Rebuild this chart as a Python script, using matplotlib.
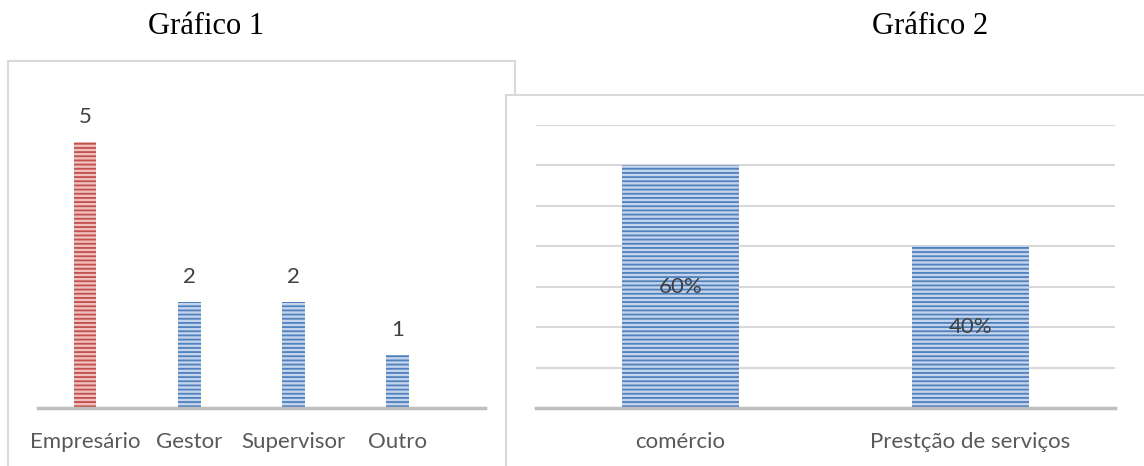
import matplotlib
matplotlib.use("Agg")
import matplotlib.pyplot as plt
from matplotlib.patches import Rectangle

# ---- data ----
cats1 = ["Empresário", "Gestor", "Supervisor", "Outro"]
vals1 = [5, 2, 2, 1]
cats2 = ["comércio", "Prestção de serviços"]
vals2 = [0.60, 0.40]
title1 = "Gráfico 1"
title2 = "Gráfico 2"

W, H = 1144, 466
plt.rcParams['hatch.linewidth'] = 1.3
fig = plt.figure(figsize=(W / 100, H / 100), dpi=100)
fig.patch.set_facecolor("white")

FONT = "Lato"
TXT = "#595959"
VAL = "#404040"
FRAME = "#d9d9d9"
FS = 16

def fx(px):
    return px / W

def fy(py):
    return 1 - py / H

# frames
fig.add_artist(Rectangle((fx(8), -0.02), fx(515 - 8), fy(61) + 0.02,
                         transform=fig.transFigure, facecolor="white",
                         edgecolor=FRAME, linewidth=1.5, zorder=-3))
fig.add_artist(Rectangle((fx(506), -0.02), fx(W - 506) + 0.05, fy(95) + 0.02,
                         transform=fig.transFigure, facecolor="white",
                         edgecolor=FRAME, linewidth=1.5, zorder=-2))

# titles
fig.text(fx(206), fy(26), title1, ha="center", va="center",
         family="Liberation Serif", fontsize=22, color="black")
fig.text(fx(930), fy(26), title2, ha="center", va="center",
         family="Liberation Serif", fontsize=22, color="black")

# ---- chart 1 ----
base = 408
ax1 = fig.add_axes([fx(38), fy(base), fx(485 - 38), (base - 88.8) / H], zorder=1)
ax1.set_facecolor("none")
colors1 = [("#f0bfbe", "#c0504d")] + [("#c4d4ec", "#4f81bd")] * 3
x1 = list(range(len(cats1)))
for xi, v, (fc, ec) in zip(x1, vals1, colors1):
    ax1.bar(xi, v, width=0.22, color=fc, edgecolor=ec, hatch="----", linewidth=0)
    ax1.text(xi, v + 0.28, str(v), ha="center", va="bottom", family=FONT,
             fontsize=FS, color=VAL)
ax1.set_xlim(-0.451, 3.839)
ax1.set_ylim(0, 6)
ax1.set_yticks([])
ax1.set_xticks(x1)
ax1.set_xticklabels(cats1, family=FONT, fontsize=FS, color=TXT)
ax1.tick_params(axis="x", length=0, pad=17)
for s in ["top", "right", "left"]:
    ax1.spines[s].set_visible(False)
ax1.spines["bottom"].set_color("#bfbfbf")
ax1.spines["bottom"].set_linewidth(2.5)

# ---- chart 2 ----
ax2 = fig.add_axes([fx(536), fy(base), fx(1115 - 536), (base - 125) / H], zorder=1)
ax2.set_facecolor("none")
x2 = list(range(len(cats2)))
ax2.bar(x2, vals2, width=0.403, color="#c4d4ec", edgecolor="#4f81bd",
        hatch="----", linewidth=0, zorder=2)
for xi, v in zip(x2, vals2):
    ax2.text(xi, v / 2, f"{int(round(v * 100))}%", ha="center", va="center",
             family=FONT, fontsize=FS, color=VAL, zorder=3)
ax2.set_xlim(-0.498, 1.498)
ax2.set_ylim(0, 0.7)
ax2.set_yticks([i / 10 for i in range(1, 8)])
ax2.yaxis.grid(True, color=FRAME, linewidth=1.5, zorder=0)
ax2.set_axisbelow(True)
ax2.tick_params(axis="y", length=0, labelleft=False)
ax2.set_xticks(x2)
ax2.set_xticklabels(cats2, family=FONT, fontsize=FS, color=TXT)
ax2.tick_params(axis="x", length=0, pad=17)
for s in ["top", "right", "left"]:
    ax2.spines[s].set_visible(False)
ax2.spines["bottom"].set_color("#bfbfbf")
ax2.spines["bottom"].set_linewidth(2.5)

fig.savefig("out.png", dpi=100, facecolor="white")
